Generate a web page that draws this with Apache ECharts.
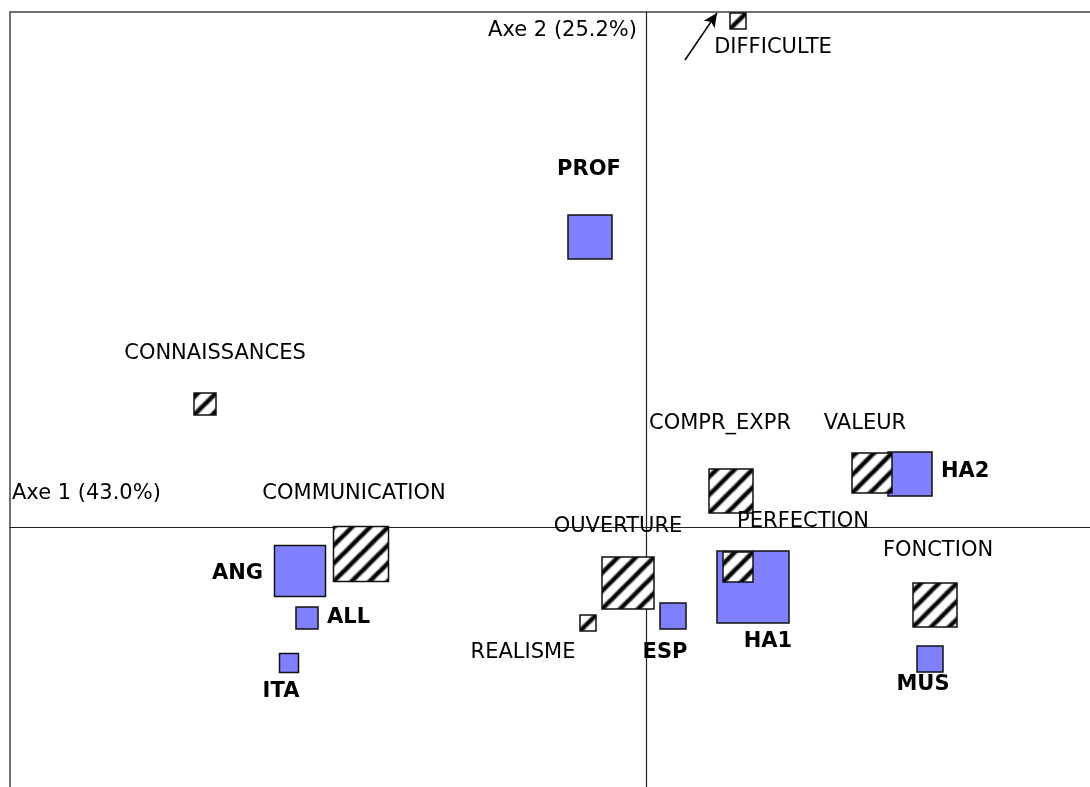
<!DOCTYPE html>
<html>
<head>
<meta charset="utf-8">
<script src="https://cdn.jsdelivr.net/npm/echarts@6/dist/echarts.min.js"></script>
<style>
  html, body { margin: 0; padding: 0; background: #fff; }
  #chart { width: 1090px; height: 787px; }
</style>
</head>
<body>
<div id="chart"></div>
<script>
// lignes (modalites actives) - carres bleus
var rowNames = ['PROF', 'ANG', 'ALL', 'ITA', 'ESP', 'HA1', 'HA2', 'MUS'];
var rowAxe1 = [-0.056, -0.346, -0.339, -0.357, 0.027, 0.107, 0.264, 0.284];
var rowAxe2 = [0.290, -0.044, -0.091, -0.136, -0.089, -0.060, 0.053, -0.132];
var rowWeight = [4.4, 5.1, 2.2, 1.9, 2.6, 7.2, 4.4, 2.6];

// colonnes - carres hachures
var colNames = ['DIFFICULTE', 'CONNAISSANCES', 'COMMUNICATION', 'OUVERTURE', 'REALISME',
  'COMPR_EXPR', 'PERFECTION', 'VALEUR', 'FONCTION'];
var colAxe1 = [0.092, -0.441, -0.285, -0.018, -0.058, 0.085, 0.092, 0.226, 0.289];
var colAxe2 = [0.506, 0.123, -0.027, -0.056, -0.096, 0.036, -0.040, 0.054, -0.078];
var colWeight = [1.6, 2.2, 5.5, 5.2, 1.6, 4.4, 3.0, 4.0, 4.4];

var axisNames = ['Axe 1 (43.0%)', 'Axe 2 (25.2%)'];
var arrowFrom = [0.039, 0.467];
var arrowTo = [0.071, 0.514];

// placement des etiquettes : [dx, dy, align]
var labelPlace = {
  PROF: [-1, -67, 'center'], ANG: [-37, 3, 'right'], ALL: [20, 0, 'left'],
  ITA: [-8, 29, 'center'], ESP: [-8, 37, 'center'], HA1: [15, 55, 'center'],
  HA2: [31, -2, 'left'], MUS: [-7, 26, 'center'],
  DIFFICULTE: [35, 27, 'center'], CONNAISSANCES: [10, -50, 'center'],
  COMMUNICATION: [-7, -60, 'center'], OUVERTURE: [-10, -56, 'center'],
  REALISME: [-65, 30, 'center'], COMPR_EXPR: [-11, -67, 'center'],
  PERFECTION: [65, -45, 'center'], VALEUR: [-7, -49, 'center'],
  FONCTION: [3, -54, 'center']
};

var FONT = 'DejaVu Sans';
var SIZE_K = 10;

function hatch() {
  var s = 12, c = document.createElement('canvas');
  c.width = s; c.height = s;
  var g = c.getContext('2d');
  g.fillStyle = '#fff';
  g.fillRect(0, 0, s, s);
  g.strokeStyle = '#000';
  g.lineWidth = 3;
  g.beginPath();
  g.moveTo(-2, s + 2); g.lineTo(s + 2, -2);
  g.moveTo(-2, 2); g.lineTo(2, -2);
  g.moveTo(s - 2, s + 2); g.lineTo(s + 2, s - 2);
  g.stroke();
  return c;
}
var hatchTile = hatch();

function build(names, xs, ys, ws, bold, hatched) {
  return names.map(function (n, i) {
    var p = labelPlace[n];
    var item = {
      name: n,
      value: [xs[i], ys[i], ws[i]],
      label: { offset: [p[0], p[1]], align: p[2], fontWeight: bold ? 'bold' : 'normal' }
    };
    if (hatched) {
      // the symbol path is scaled with its size, compensate so every square gets the same stripes
      var k = 3 / (ws[i] * SIZE_K);
      item.itemStyle = { color: { image: hatchTile, repeat: 'repeat', scaleX: k, scaleY: k } };
    }
    return item;
  });
}

var chart = echarts.init(document.getElementById('chart'));
chart.setOption({
  animation: false,
  grid: {
    left: 10, top: 12, width: 1082, height: 777, outerBoundsMode: 'none', containLabel: false,
    show: true, borderColor: '#444', borderWidth: 1.5
  },
  xAxis: {
    type: 'value', min: -0.636, max: 0.446,
    axisLine: { onZero: true, lineStyle: { color: '#222', width: 1.2 } },
    axisTick: { show: false }, axisLabel: { show: false }, splitLine: { show: false }
  },
  yAxis: {
    type: 'value', min: -0.262, max: 0.515,
    axisLine: { onZero: true, lineStyle: { color: '#222', width: 1.2 } },
    axisTick: { show: false }, axisLabel: { show: false }, splitLine: { show: false }
  },
  graphic: [
    { type: 'text', left: 12, top: 483, style: { text: axisNames[0], font: '21px "' + FONT + '"', fill: '#000' } },
    { type: 'text', right: 1090 - 637, top: 20, style: { text: axisNames[1], font: '21px "' + FONT + '"', fill: '#000' } }
  ],
  series: [
    {
      type: 'scatter',
      symbol: 'rect',
      symbolSize: function (v) { return v[2] * SIZE_K; },
      itemStyle: { color: '#8080ff', borderColor: '#111', borderWidth: 1.5, opacity: 1 },
      label: {
        show: true, position: 'inside', formatter: '{b}', color: '#000',
        fontFamily: FONT, fontSize: 21, verticalAlign: 'middle'
      },
      emphasis: { disabled: true },
      data: build(rowNames, rowAxe1, rowAxe2, rowWeight, true, false),
      z: 2
    },
    {
      type: 'scatter',
      symbol: 'rect',
      symbolSize: function (v) { return v[2] * SIZE_K; },
      itemStyle: { borderColor: '#111', borderWidth: 1.5, opacity: 1 },
      label: {
        show: true, position: 'inside', formatter: '{b}', color: '#000',
        fontFamily: FONT, fontSize: 21, verticalAlign: 'middle'
      },
      emphasis: { disabled: true },
      data: build(colNames, colAxe1, colAxe2, colWeight, false, true),
      markLine: {
        silent: true, symbol: ['none', 'arrow'], symbolSize: [10, 14],
        lineStyle: { color: '#000', width: 1.5, type: 'solid' },
        label: { show: false },
        data: [[{ coord: arrowFrom }, { coord: arrowTo }]]
      },
      z: 3
    }
  ]
});
</script>
</body>
</html>
